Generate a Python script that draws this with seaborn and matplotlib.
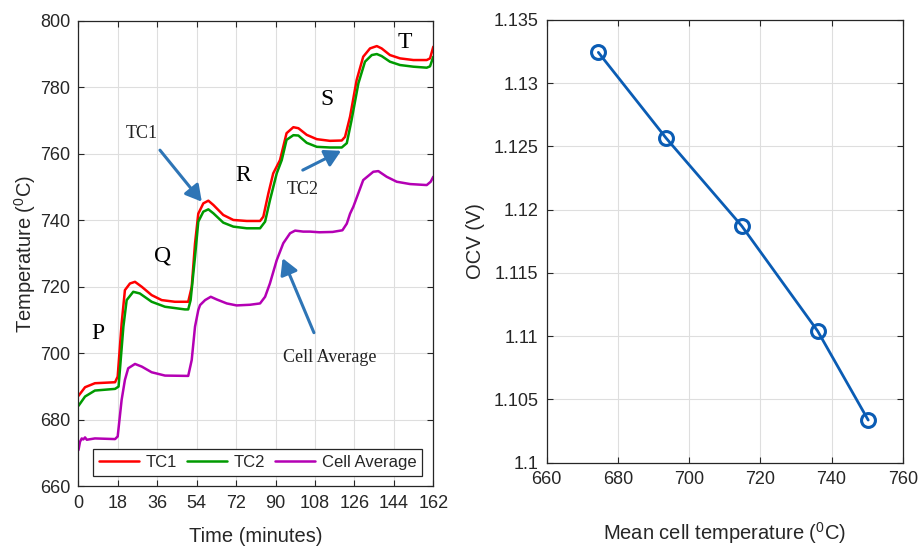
import numpy as np
import pandas as pd
import matplotlib
matplotlib.use("Agg")
import matplotlib.pyplot as plt
from matplotlib.ticker import FuncFormatter
import seaborn as sns

# ---- data ----
tc1_time = [0, 3.0, 7.5, 16.7, 17.9, 19.7, 21.2, 23.5, 25.8, 28.9, 33.4, 38.0, 44.0, 50.1,
            51.7, 53.2, 54.7, 57.0, 59.3, 61.6, 66.1, 70.7, 76.8, 82.9, 84.4, 86.7, 88.9,
            92.0, 95.0, 98.1, 100.4, 104.2, 108.8, 114.8, 120.2, 121.7, 124.0, 127.0, 130.0,
            133.1, 136.2, 138.4, 142.2, 146.8, 152.9, 159.0, 160.5, 162.0]
tc1_temp = [687.2, 689.8, 691.0, 691.3, 693.0, 709.0, 719.0, 721.0, 721.5, 720.0, 717.5, 716.0, 715.5, 715.5,
            720.0, 733.0, 742.0, 745.1, 745.9, 744.6, 741.6, 740.1, 739.8, 739.8, 741.1, 748.1, 754.1,
            758.1, 766.2, 768.0, 767.7, 765.7, 764.4, 763.9, 764.0, 765.1, 771.2, 782.2, 789.2,
            791.7, 792.4, 791.7, 789.7, 788.7, 788.2, 788.2, 788.7, 792.2]

tc2_time = [0, 3.0, 7.5, 16.7, 18.3, 20.5, 22.0, 25.0, 28.0, 33.4, 39.5, 48.6, 50.1,
            51.2, 53.2, 54.7, 57.0, 59.3, 61.6, 66.1, 70.7, 76.8, 82.9, 85.2, 87.4, 90.5,
            92.8, 95.0, 98.1, 100.4, 104.2, 108.8, 114.8, 120.2, 122.5, 124.7, 127.8, 130.8,
            133.9, 136.2, 138.4, 142.2, 146.8, 152.9, 159.0, 160.5, 162.0]
tc2_temp = [684.2, 687.0, 688.8, 689.3, 690.0, 708.0, 716.0, 718.5, 718.0, 715.5, 714.0, 713.2, 713.2,
            716.0, 729.0, 739.6, 742.6, 743.3, 742.1, 739.3, 738.1, 737.6, 737.6, 739.6, 746.0, 754.1,
            758.1, 764.2, 765.6, 765.5, 763.3, 762.1, 761.9, 761.9, 763.2, 770.2, 781.2, 787.7,
            789.7, 790.0, 789.4, 787.7, 786.7, 786.2, 785.9, 786.3, 789.2]

avg_time = [0, 0.7, 1.5, 2.2, 3.0, 3.8, 7.5, 16.7, 17.9, 19.7, 21.2, 22.7, 25.8, 28.9, 33.4, 39.5,
            50.1, 51.7, 53.2, 54.7, 55.5, 57.8, 60.4, 63.1, 67.7, 72.2, 78.3, 82.9, 85.2, 87.4,
            90.5, 93.5, 96.6, 98.9, 102.6, 105.7, 110.0, 116.0, 120.5, 122.5, 124.0, 125.5,
            130.0, 134.6, 136.9, 140.7, 145.3, 151.4, 159.0, 160.8, 162.0]
avg_temp = [670.9, 673.4, 674.4, 674.1, 674.7, 674.0, 674.4, 674.2, 675.0, 686.0, 692.0, 695.5, 696.8,
            696.0, 694.3, 693.3, 693.2, 698.0, 708.0, 713.0, 714.5, 716.0, 717.0, 716.2, 715.0, 714.4,
            714.6, 715.0, 717.0, 721.0, 728.0, 733.1, 736.1, 736.9, 736.6, 736.6, 736.4, 736.5,
            737.0, 739.0, 742.0, 744.1, 752.1, 754.6, 754.8, 753.1, 751.6, 750.9, 750.6, 751.6, 753.1]

mean_temp = [674.5, 693.6, 714.8, 736.1, 750.3]
ocv = [1.13244, 1.12564, 1.11871, 1.11041, 1.10337]

time_ticks = [0, 18, 36, 54, 72, 90, 108, 126, 144, 162]

# ---- style ----
sns.set_theme(style="ticks")
plt.rcParams["font.family"] = ["Liberation Sans", "DejaVu Sans"]
plt.rcParams["mathtext.fontset"] = "custom"
plt.rcParams["mathtext.rm"] = "Liberation Sans"
plt.rcParams["mathtext.it"] = "Liberation Sans"
dark = "#262626"
gridc = "#dedede"
arrowc = "#2e75b6"
serif = ["Liberation Serif", "DejaVu Serif"]

fig = plt.figure(figsize=(9.19, 5.49), dpi=100)
ax1 = fig.add_axes([0.0854, 0.1142, 0.3861, 0.8479])
ax2 = fig.add_axes([0.5949, 0.1572, 0.3874, 0.8064])

# ---- left: temperatures over time ----
series = [("TC1", tc1_time, tc1_temp, "#ff0000"),
          ("TC2", tc2_time, tc2_temp, "#009a00"),
          ("Cell Average", avg_time, avg_temp, "#b400b4")]
for name, t, v, c in series:
    sns.lineplot(x=t, y=v, ax=ax1, color=c, lw=1.8, label=name, sort=False, estimator=None)

ax1.set_xlim(0, 162)
ax1.set_ylim(660, 800)
ax1.set_xticks(time_ticks)
ax1.set_yticks(np.arange(660, 801, 20))
ax1.set_xlabel("Time (minutes)", fontsize=14.5, color=dark)
ax1.set_ylabel(r"Temperature ($^{0}$C)", fontsize=14.5, color=dark)
ax1.xaxis.set_label_coords(0.5, -0.087)
ax1.yaxis.set_label_coords(-0.114, 0.5)

leg = ax1.legend(loc="lower left", bbox_to_anchor=(0.041, 0.022), ncol=3, fontsize=12,
                 frameon=True, fancybox=False, framealpha=1, edgecolor=dark,
                 handlelength=2.4, columnspacing=0.6, handletextpad=0.4,
                 borderpad=0.35, borderaxespad=0)
leg.get_frame().set_linewidth(0.9)

for s, x, y in [("P", 8.9, 706.1), ("Q", 38.6, 729.3), ("R", 75.1, 753.6),
                ("S", 113.5, 776.2), ("T", 149.1, 793.5)]:
    ax1.text(x, y, s, fontsize=17, family=serif, ha="center", va="center", color="black")
for s, x, y in [("TC1", 29.1, 766.2), ("TC2", 102.5, 749.2), ("Cell Average", 114.6, 698.7)]:
    ax1.text(x, y, s, fontsize=13, family=serif, ha="center", va="center", color="#222222")

arrow_kw = dict(arrowstyle="-|>,head_length=0.8,head_width=0.45", color=arrowc, lw=2.2,
                shrinkA=0, shrinkB=0)
for tail, tip in [((37.2, 761.1), (56.3, 745.6)),
                  ((102.4, 755.1), (119.9, 760.9)),
                  ((107.5, 706.2), (93.2, 728.6))]:
    ax1.annotate("", xy=tip, xytext=tail, arrowprops=arrow_kw)

# ---- right: OCV vs mean cell temperature ----
ocv_df = pd.DataFrame({"Mean cell temperature": mean_temp, "OCV": ocv})
sns.lineplot(data=ocv_df, x="Mean cell temperature", y="OCV", ax=ax2, color="#0a5cb4",
             lw=2.0, marker="o", markersize=10, markerfacecolor="none",
             markeredgecolor="#0a5cb4", markeredgewidth=2.2)
ax2.set_xlim(660, 760)
ax2.set_ylim(1.1, 1.135)
ax2.set_xticks(np.arange(660, 761, 20))
ax2.set_yticks(np.arange(1.1, 1.1351, 0.005))
ax2.yaxis.set_major_formatter(FuncFormatter(lambda v, p: f"{round(v, 4):g}"))
ax2.set_xlabel(r"Mean cell temperature ($^{0}$C)", fontsize=14.5, color=dark)
ax2.set_ylabel("OCV (V)", fontsize=14.5, color=dark)
ax2.xaxis.set_label_coords(0.5, -0.13)
ax2.yaxis.set_label_coords(-0.173, 0.5)

for ax in (ax1, ax2):
    ax.grid(True, color=gridc, lw=0.8)
    ax.set_axisbelow(True)
    for sp in ax.spines.values():
        sp.set_visible(True)
        sp.set_color(dark)
        sp.set_linewidth(0.9)
    ax.tick_params(direction="in", top=True, right=True, length=4, width=0.8,
                   colors=dark, labelsize=13, pad=6)

fig.savefig("out.png", dpi=100)
